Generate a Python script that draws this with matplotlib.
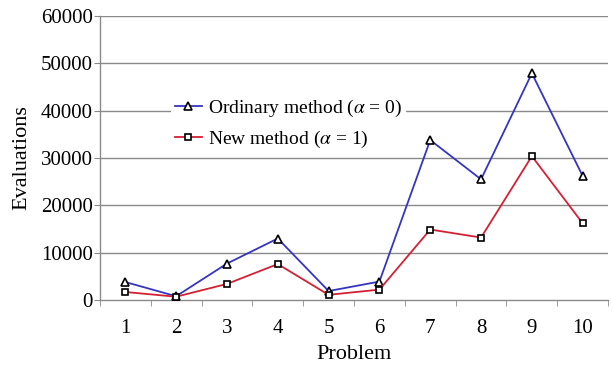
import matplotlib
matplotlib.use("Agg")
import matplotlib.pyplot as plt
from matplotlib.ticker import MultipleLocator

problems = [1, 2, 3, 4, 5, 6, 7, 8, 9, 10]
ordinary = [3800, 800, 7700, 13000, 1900, 3900, 33800, 25500, 47900, 26200]
new = [1700, 700, 3400, 7600, 1100, 2200, 14900, 13200, 30400, 16200]
yticks = [0, 10000, 20000, 30000, 40000, 50000, 60000]

plt.rcParams['font.family'] = ['Liberation Serif', 'DejaVu Serif']
plt.rcParams['mathtext.fontset'] = 'stix'

fig = plt.figure(figsize=(6.13, 3.65), dpi=100)
ax = fig.add_axes([0.163, 0.178, 0.829, 0.778])

grid_c = '#8a8a8a'
for v in yticks[1:]:
    ax.axhline(v, color=grid_c, lw=1.0, zorder=1)

ax.plot(problems, ordinary, color='#3535c0', lw=1.3, marker='^', ms=6,
        mfc='white', mec='black', mew=1.2, label=r'Ordinary method ($\alpha$ = 0)', zorder=3)
ax.plot(problems, new, color='#d42035', lw=1.3, marker='s', ms=5,
        mfc='white', mec='black', mew=1.2, label=r'New method ($\alpha$ = 1)', zorder=3)

ax.set_xlim(0.5, 10.5)
ax.set_ylim(0, 60000)
ax.set_yticks(yticks)
ax.set_xticks(problems)
ax.xaxis.set_minor_locator(MultipleLocator(1, offset=0.5))
ax.tick_params(axis='x', which='major', length=0, labelsize=15, pad=14)
ax.tick_params(axis='x', which='minor', length=4, color=grid_c, direction='out')
ax.tick_params(axis='y', length=4, color=grid_c, labelsize=15, pad=1)

for s in ['top', 'right']:
    ax.spines[s].set_visible(False)
for s in ['left', 'bottom']:
    ax.spines[s].set_color(grid_c)
    ax.spines[s].set_linewidth(1.0)

ax.set_xlabel('Problem', fontsize=16, labelpad=5)
ax.set_ylabel('Evaluations', fontsize=16, labelpad=7)

leg = ax.legend(loc='upper left', bbox_to_anchor=(0.12, 0.76), frameon=True,
                fontsize=14, handlelength=1.4, handletextpad=0.3,
                borderpad=0.2, labelspacing=0.5)
leg.get_frame().set_edgecolor('none')
leg.get_frame().set_facecolor('white')
leg.get_frame().set_alpha(1)

fig.savefig('out.png', dpi=100)
